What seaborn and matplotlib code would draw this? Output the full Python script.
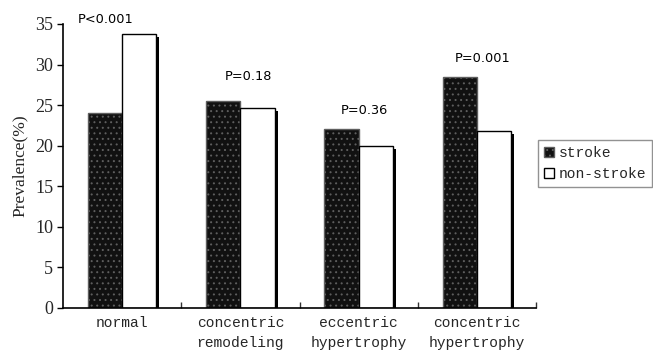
import matplotlib
matplotlib.use("Agg")
import matplotlib.pyplot as plt
import matplotlib.patheffects as pe
from matplotlib.patches import Patch
import seaborn as sns
import pandas as pd
import numpy as np

categories = ["normal", "concentric\nremodeling", "eccentric\nhypertrophy", "concentric\nhypertrophy"]
stroke = [24.0, 25.5, 22.0, 28.5]
non_stroke = [33.8, 24.6, 20.0, 21.8]
p_labels = ["P<0.001", "P=0.18", "P=0.36", "P=0.001"]
groups = ["stroke", "non-stroke"]

df = pd.DataFrame({
    "category": categories * 2,
    "group": [groups[0]] * 4 + [groups[1]] * 4,
    "value": stroke + non_stroke,
})

sns.set_style("white")
plt.rcParams["hatch.linewidth"] = 0.7

fig = plt.figure(figsize=(6.53, 3.53), dpi=100)
ax = fig.add_axes([63 / 653, 1 - 308 / 353, (536 - 63) / 653, (308 - 24) / 353])

sns.barplot(data=df, x="category", y="value", hue="group", hue_order=groups,
            palette={"stroke": "#111111", "non-stroke": "white"},
            width=0.58, gap=0, dodge=True, ax=ax, legend=False, errorbar=None)

for bar in ax.containers[0]:
    bar.set_hatch("...")
    bar.set_edgecolor("#5e5e5e")
    bar.set_linewidth(1.0)
for bar in ax.containers[1]:
    bar.set_edgecolor("black")
    bar.set_linewidth(1.0)
    bar.set_path_effects([pe.SimplePatchShadow(offset=(2.2, -2.2), shadow_rgbFace="black", alpha=1.0),
                          pe.Normal()])
    bar.set_zorder(3)

ax.set_ylim(0, 35)
ax.set_xlim(-0.5, 3.5)
ax.set_yticks(np.arange(0, 36, 5))
ax.set_ylabel("Prevalence(%)", family="Liberation Serif", fontsize=12.5, labelpad=5)
ax.set_xlabel("")
for lab in ax.get_yticklabels():
    lab.set_family("Liberation Serif")
    lab.set_fontsize(13)
ax.set_xticks(range(4))
ax.set_xticklabels(categories, family="Liberation Mono", fontsize=10.5, linespacing=1.5)
ax.tick_params(axis="x", length=0, pad=6)
ax.tick_params(axis="y", direction="out", length=4, width=1, color="black", left=True, pad=3)
ax.set_xticks([0.5, 1.5, 2.5, 3.5], minor=True)
ax.tick_params(axis="x", which="minor", direction="in", length=4, width=1, color="#333333", bottom=True)

for s in ["top", "right"]:
    ax.spines[s].set_visible(False)
for s in ["left", "bottom"]:
    ax.spines[s].set_color("black")
    ax.spines[s].set_linewidth(1.2)
    ax.spines[s].set_zorder(5)

p_dx = [-0.14, 0.07, 0.05, 0.05]
p_dy = [1.8, 3.0, 2.4, 2.3]
for i, txt in enumerate(p_labels):
    top = max(stroke[i], non_stroke[i])
    ax.text(i + p_dx[i], top + p_dy[i], txt, ha="center", va="center",
            family="DejaVu Sans", fontsize=9.3, color="black", clip_on=False)

handles = [Patch(facecolor="#111111", edgecolor="#5e5e5e", hatch="..."),
           Patch(facecolor="white", edgecolor="black")]
leg = fig.legend(handles, groups, loc="upper left",
                 bbox_to_anchor=(538 / 653, 1 - 140 / 353),
                 prop={"family": "Liberation Mono", "size": 10.5},
                 frameon=True, fancybox=False, edgecolor="#777777",
                 handlelength=0.7, handleheight=0.7, handletextpad=0.3,
                 borderpad=0.4, labelspacing=0.5, borderaxespad=0)
leg.get_frame().set_linewidth(1.0)

fig.savefig("out.png", dpi=100)
